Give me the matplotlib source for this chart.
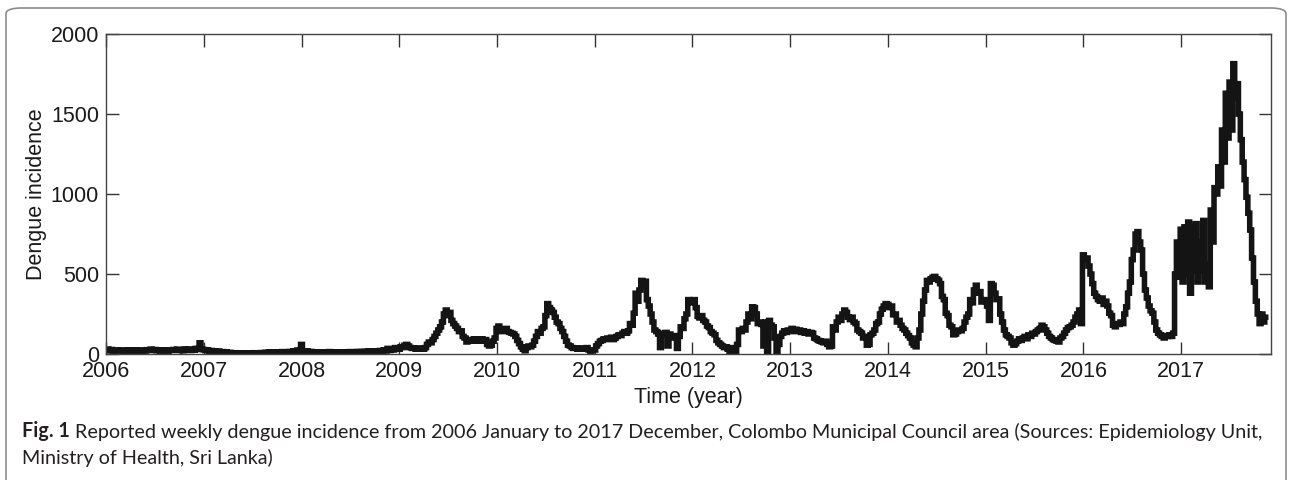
import matplotlib
matplotlib.use("Agg")
import matplotlib.pyplot as plt
from matplotlib.patches import FancyBboxPatch
import numpy as np

# weekly reported dengue cases, Colombo MC area (one list per year)
cases_2006 = [25, 30, 20, 28, 18, 22, 25, 20, 24, 18, 22, 20, 26, 19, 23, 21, 25, 20, 22, 18,
              24, 20, 27, 22, 30, 24, 28, 20, 22, 18, 25, 20, 23, 19, 26, 22, 28, 24, 30, 22,
              26, 20, 32, 24, 28, 22, 30, 25, 35, 28, 70, 30]
cases_2007 = [28, 22, 25, 18, 22, 16, 20, 15, 18, 12, 15, 10, 12, 8, 10, 6, 8, 5, 7, 5,
              6, 4, 6, 5, 7, 5, 6, 8, 5, 7, 6, 9, 7, 10, 8, 12, 9, 11, 8, 13,
              10, 12, 15, 11, 14, 12, 16, 13, 20, 15, 25, 18]
cases_2008 = [60, 20, 15, 18, 12, 16, 11, 14, 10, 13, 9, 12, 10, 14, 11, 15, 12, 10, 13, 9,
              12, 10, 14, 11, 13, 10, 15, 12, 14, 11, 16, 12, 15, 13, 17, 14, 18, 15, 20, 16,
              18, 15, 22, 18, 25, 20, 35, 22, 30, 25, 40, 30]
cases_2009 = [30, 45, 40, 55, 60, 50, 40, 35, 38, 30, 36, 32, 35, 30, 40, 60, 75, 70, 90, 110,
              130, 150, 170, 200, 250, 275, 240, 260, 210, 190, 175, 160, 140, 145, 110, 100, 75, 80, 90, 85,
              95, 80, 90, 85, 95, 80, 90, 60, 50, 55, 80, 100]
cases_2010 = [160, 175, 140, 155, 145, 160, 140, 135, 130, 125, 110, 85, 65, 45, 30, 20, 40, 50, 45, 55,
              80, 110, 140, 130, 160, 170, 240, 315, 290, 275, 260, 230, 200, 190, 160, 140, 110, 80, 55, 50,
              40, 35, 38, 30, 36, 32, 35, 30, 40, 25, 15, 25]
cases_2011 = [25, 50, 65, 80, 85, 95, 90, 100, 95, 105, 90, 100, 110, 120, 115, 130, 140, 130, 145, 190,
              180, 255, 380, 330, 400, 460, 420, 455, 340, 300, 250, 200, 150, 140, 125, 40, 130, 120, 135, 50,
              125, 110, 100, 115, 35, 110, 170, 160, 220, 250, 340, 330]
cases_2012 = [320, 340, 290, 235, 225, 240, 210, 200, 175, 165, 140, 130, 120, 85, 70, 60, 50, 40, 45, 30,
              10, 40, 35, 0, 60, 150, 140, 160, 150, 200, 250, 220, 295, 290, 250, 190, 200, 185, 50, 200,
              0, 210, 180, 170, 100, 0, 60, 110, 130, 145, 135, 150]
cases_2013 = [150, 160, 140, 155, 145, 150, 135, 145, 130, 140, 125, 135, 130, 100, 95, 85, 80, 75, 70, 80,
              60, 45, 50, 170, 150, 200, 230, 210, 250, 275, 260, 230, 215, 230, 200, 190, 150, 140, 130, 100,
              110, 55, 60, 120, 130, 150, 190, 200, 250, 280, 300, 315]
cases_2014 = [310, 290, 300, 245, 250, 200, 210, 180, 160, 150, 130, 115, 100, 70, 55, 45, 100, 150, 250, 330,
              400, 460, 450, 470, 480, 485, 470, 460, 440, 360, 340, 255, 240, 180, 170, 120, 125, 140, 150, 145,
              160, 200, 230, 250, 340, 320, 400, 430, 380, 390, 325, 340]
cases_2015 = [330, 300, 210, 440, 430, 380, 340, 345, 250, 200, 150, 120, 110, 100, 70, 55, 65, 80, 95, 85,
              100, 110, 95, 120, 110, 130, 125, 140, 150, 160, 180, 170, 150, 130, 110, 100, 90, 85, 80, 75,
              100, 110, 130, 150, 165, 170, 180, 200, 230, 250, 275, 190]
cases_2016 = [620, 590, 600, 550, 500, 440, 380, 360, 340, 330, 350, 310, 330, 300, 255, 240, 180, 170, 190, 185,
              200, 190, 250, 295, 380, 450, 590, 650, 750, 765, 700, 650, 500, 400, 350, 300, 270, 255, 200, 150,
              130, 120, 110, 100, 115, 110, 120, 110, 130, 500, 700, 480]
cases_2017 = [780, 450, 795, 500, 825, 380, 800, 520, 815, 450, 700, 520, 835, 450, 560, 420, 900, 700, 1040, 1000,
              1170, 1050, 1400, 1200, 1630, 1350, 1700, 1400, 1815, 1600, 1690, 1500, 1340, 1200, 1090, 980, 880, 775, 600, 450,
              330, 250, 190, 250, 200, 230]

years = list(range(2006, 2018))
yearly = [cases_2006, cases_2007, cases_2008, cases_2009, cases_2010, cases_2011,
          cases_2012, cases_2013, cases_2014, cases_2015, cases_2016, cases_2017]

t = np.concatenate([yr + np.arange(len(vals)) / 52.0 for yr, vals in zip(years, yearly)])
cases = np.concatenate([np.asarray(v, dtype=float) for v in yearly])

year_ticks = years
case_ticks = [0, 500, 1000, 1500, 2000]

caption_bold = "Fig. 1"
caption_line1 = ("Reported weekly dengue incidence from 2006 January to 2017 December, "
                 "Colombo Municipal Council area (Sources: Epidemiology Unit,")
caption_line2 = "Ministry of Health, Sri Lanka)"

fig = plt.figure(figsize=(12.9, 4.8), dpi=100)
ax = fig.add_axes([0.0822, 0.2625, 0.9031, 0.6665])

ax.plot(t, cases, color="#141414", lw=4.0, drawstyle="steps-mid",
        solid_joinstyle="miter")

ax.set_xlim(2006, 2017.92)
ax.set_ylim(0, 2000)
ax.set_xticks(year_ticks)
ax.set_yticks(case_ticks)

tick_font = dict(family="Liberation Sans", size=15.5, color="#1a1a1a")
ax.set_xticklabels([str(y) for y in year_ticks], **tick_font)
ax.set_yticklabels([str(v) for v in case_ticks], **tick_font)
ax.tick_params(direction="in", length=9, width=1.0, color="#333333",
               top=True, right=True, pad=5)
for sp in ax.spines.values():
    sp.set_color("#444444")
    sp.set_linewidth(1.0)

ax.set_xlabel("Time (year)", fontfamily="Liberation Sans", fontsize=15.5,
              color="#1a1a1a", labelpad=4)
ax.set_ylabel("Dengue incidence", fontfamily="Liberation Sans", fontsize=15.5,
              color="#1a1a1a", labelpad=3)

# journal-style frame with rounded corners, open at the bottom
frame = FancyBboxPatch((6 / 1290, -0.1), 1280 / 1290, 1.1 - 8 / 480,
                       boxstyle="round,pad=0,rounding_size=0.012",
                       transform=fig.transFigure, fill=False,
                       edgecolor="#8c8c8c", linewidth=1.2, clip_on=False)
fig.patches.append(frame)

cap_font = dict(family="Lato", size=14.2, color="#231f20")
bold = fig.text(22 / 1290, 1 - 441 / 480, caption_bold, fontweight="bold",
                va="bottom", ha="left", **cap_font)
plt.annotate(caption_line1, xy=(1, 0), xycoords=bold, xytext=(4, 0),
             textcoords="offset points", va="bottom", ha="left", **cap_font)
fig.text(22 / 1290, 1 - 467 / 480, caption_line2, va="bottom", ha="left", **cap_font)

fig.savefig("out.png", dpi=100)
